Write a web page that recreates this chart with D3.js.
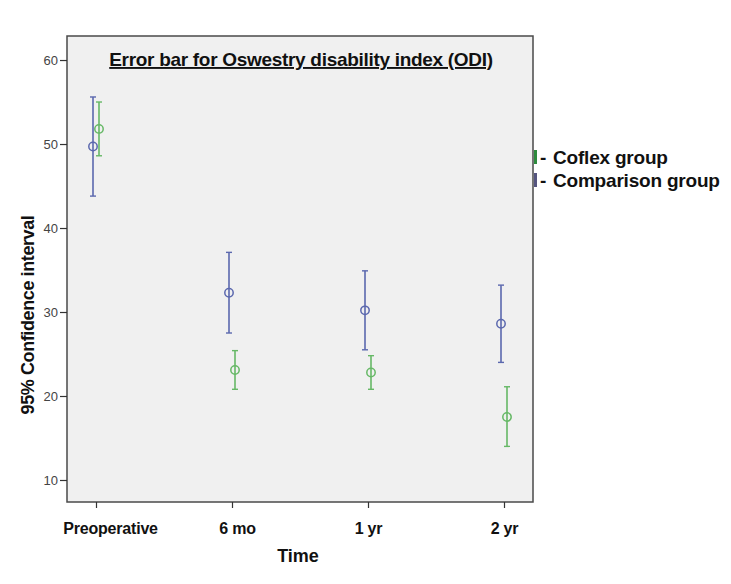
<!DOCTYPE html>
<html><head><meta charset="utf-8">
<script src="https://cdn.jsdelivr.net/npm/d3@7"></script>
<style>
html,body{margin:0;padding:0;background:#fff;}
text{font-family:"Liberation Sans",Arial,sans-serif;}
</style></head>
<body>
<svg id="chart" width="731" height="584"></svg>
<script>
const categories = ["Preoperative", "6 mo", "1 yr", "2 yr"];
const seriesNames = ["Coflex group", "Comparison group"];
const coflexMean  = [51.8, 23.1, 22.8, 17.5];
const coflexLow   = [48.6, 20.8, 20.8, 14.0];
const coflexHigh  = [55.0, 25.4, 24.8, 21.1];
const compMean    = [49.7, 32.3, 30.2, 28.6];
const compLow     = [43.8, 27.5, 25.5, 24.0];
const compHigh    = [55.6, 37.1, 34.9, 33.2];
const yTicks = [10, 20, 30, 40, 50, 60];
const colors = {"Coflex group": "#66b866", "Comparison group": "#5b68ae"};

const svg = d3.select("#chart");
const L = 67, T = 36, R = 533, B = 502;

const y = d3.scaleLinear().domain([7.38, 62.86]).range([B, T]);
const x = d3.scalePoint().domain(categories).range([96, 504]);
const off = d3.scaleBand().domain(["Comparison group", "Coflex group"]).range([-6, 6]);

svg.append("rect").attr("x", L).attr("y", T).attr("width", R - L).attr("height", B - T)
  .attr("fill", "#f0f0f0").attr("stroke", "#4a4a4a").attr("stroke-width", 1.5);

const ya = svg.append("g").attr("transform", `translate(${L},0)`)
  .call(d3.axisLeft(y).tickValues(yTicks).tickSize(7).tickPadding(2).tickFormat(d3.format("d")));
ya.select(".domain").remove();
ya.selectAll("line").attr("stroke", "#333").attr("stroke-width", 1.2);
ya.selectAll("text").attr("font-size", 13).attr("fill", "#444");

const xa = svg.append("g").attr("transform", `translate(0,${B})`)
  .call(d3.axisBottom(x).tickSize(6).tickPadding(15));
xa.select(".domain").remove();
xa.selectAll("line").attr("stroke", "#333").attr("stroke-width", 1.2);
xa.selectAll("text").attr("font-size", 16).attr("font-weight", "bold").attr("fill", "#111")
  .attr("letter-spacing", "-0.2")
  .attr("dx", d => d === "Preoperative" ? 14 : (d === "6 mo" ? 5 : 0));

const series = [
  {name: "Comparison group", mean: compMean, low: compLow, high: compHigh},
  {name: "Coflex group", mean: coflexMean, low: coflexLow, high: coflexHigh}
];
const bw = off.bandwidth();
series.forEach(s => {
  const g = svg.append("g");
  const pts = categories.map((c, i) => ({c, m: s.mean[i], lo: s.low[i], hi: s.high[i],
    cx: x(c) + off(s.name) + bw / 2}));
  g.selectAll(".v").data(pts).enter().append("line")
    .attr("x1", d => d.cx).attr("x2", d => d.cx)
    .attr("y1", d => y(d.lo)).attr("y2", d => y(d.hi))
    .attr("stroke", colors[s.name]).attr("stroke-width", 1.6);
  ["lo", "hi"].forEach(k => {
    g.selectAll(".c" + k).data(pts).enter().append("line")
      .attr("x1", d => d.cx - 3).attr("x2", d => d.cx + 3)
      .attr("y1", d => y(d[k])).attr("y2", d => y(d[k]))
      .attr("stroke", colors[s.name]).attr("stroke-width", 1.4);
  });
  g.selectAll("circle").data(pts).enter().append("circle")
    .attr("cx", d => d.cx).attr("cy", d => y(d.m)).attr("r", 4.2)
    .attr("fill", "none").attr("stroke", colors[s.name]).attr("stroke-width", 1.5);
});

svg.append("text").attr("x", 301).attr("y", 66).attr("text-anchor", "middle")
  .attr("font-size", 19).attr("font-weight", "bold").attr("fill", "#111")
  .attr("letter-spacing", "-0.3").attr("text-decoration", "underline")
  .text("Error bar for Oswestry disability index (ODI)");

const lg = svg.append("g");
seriesNames.forEach((n, i) => {
  const yy = 164 + i * 23;
  lg.append("rect").attr("x", 534).attr("y", yy - 14).attr("width", 3).attr("height", 14)
    .attr("fill", n === "Coflex group" ? "#2e8b3e" : "#55557f");
  lg.append("text").attr("x", 540).attr("y", yy).attr("font-size", 19).attr("font-weight", "bold")
    .attr("fill", "#111").text("-");
  lg.append("text").attr("x", 553).attr("y", yy).attr("font-size", 19).attr("font-weight", "bold")
    .attr("fill", "#111").attr("letter-spacing", "-0.2").text(n);
});

svg.append("text").attr("transform", "translate(34,315) rotate(-90)").attr("text-anchor", "middle")
  .attr("font-size", 18).attr("font-weight", "bold").attr("fill", "#111").attr("letter-spacing", "-0.4")
  .text("95% Confidence interval");
svg.append("text").attr("x", 298).attr("y", 562).attr("text-anchor", "middle")
  .attr("font-size", 18).attr("font-weight", "bold").attr("fill", "#111")
  .text("Time");
</script>
</body></html>
